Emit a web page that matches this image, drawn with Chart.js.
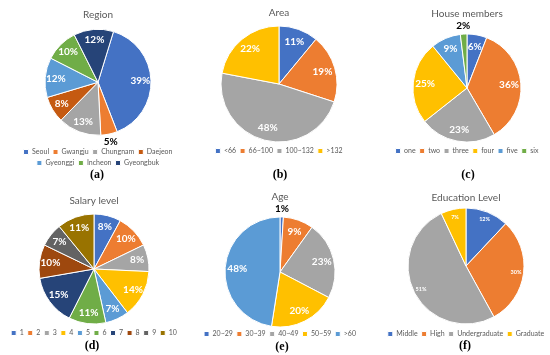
<!DOCTYPE html>
<html>
<head>
<meta charset="utf-8">
<script src="https://cdn.jsdelivr.net/npm/chart.js@4.4.0/dist/chart.umd.min.js"></script>
<style>
  html, body { margin: 0; padding: 0; background: #fff; overflow: hidden; }
  body { width: 550px; height: 355px; position: relative; }
  canvas { position: absolute; }
  .cap { position: absolute; font: bold 12px "Liberation Serif", serif; color: #000; transform: translate(-50%, -50%); white-space: nowrap; }
</style>
</head>
<body>
<script>
// Data
const regionLabels = ['Seoul', 'Gwangju', 'Chungnam', 'Daejeon', 'Gyeonggi', 'Incheon', 'Gyeongbuk'];
const regionValues = [39, 5, 13, 8, 12, 10, 12];

const areaLabels = ['<66', '66~100', '100~132', '>132'];
const areaValues = [11, 19, 48, 22];

const memberLabels = ['one', 'two', 'three', 'four', 'five', 'six'];
const memberValues = [6, 36, 23, 25, 9, 2];

const salaryLabels = ['1', '2', '3', '4', '5', '6', '7', '8', '9', '10'];
const salaryValues = [8, 10, 8, 14, 7, 11, 15, 10, 7, 11];

const ageLabels = ['20~29', '30~39', '40~49', '50~59', '>60'];
const ageValues = [1, 9, 23, 20, 48];

const eduLabels = ['Middle', 'High', 'Undergraduate', 'Graduate'];
const eduValues = [12, 30, 51, 7];

// Office palette
const BLUE = '#4472C4', ORANGE = '#ED7D31', GRAY = '#A5A5A5', GOLD = '#FFC000',
      LBLUE = '#5B9BD5', GREEN = '#70AD47', DBLUE = '#264478', DORANGE = '#9E480E',
      DGRAY = '#636363', DGOLD = '#997300';

const TEXT_GRAY = '#595959';
const FONT = 'Lato';
const LEGEND_SIZE = 7;
const LEGEND_PAD = 4;

// Panel layout (page coordinates)
const panels = [
  { title: 'Region', labels: regionLabels, values: regionValues,
    colors: [BLUE, ORANGE, GRAY, '#C55A11', LBLUE, GREEN, DBLUE],
    cx: 98, w: 184, titleY: 15, cy: 82, r: 53, legendY: 152, rows: 2,
    rotation: 17, outside: [1], ratio: 0.8, size: 10, cap: '(a)', capX: 97, capY: 174 },
  { title: 'Area', labels: areaLabels, values: areaValues,
    colors: [BLUE, ORANGE, GRAY, GOLD],
    cx: 279, w: 184, titleY: 13, cy: 84, r: 58, legendY: 151, rows: 1,
    rotation: 0, outside: [], ratio: 0.78, size: 10, cap: '(b)', capX: 280, capY: 174 },
  { title: 'House members', labels: memberLabels, values: memberValues,
    colors: [BLUE, ORANGE, GRAY, GOLD, LBLUE, GREEN],
    cx: 467, w: 184, titleY: 14, cy: 88, r: 54, legendY: 151, rows: 1,
    rotation: 0, outside: [5], ratio: 0.78, size: 10, cap: '(c)', capX: 468, capY: 174 },
  { title: 'Salary level', labels: salaryLabels, values: salaryValues,
    colors: [BLUE, ORANGE, GRAY, GOLD, LBLUE, GREEN, DBLUE, DORANGE, DGRAY, DGOLD],
    cx: 94, w: 184, titleY: 201, cy: 269, r: 55, legendY: 333, rows: 1,
    rotation: 0, outside: [], ratio: 0.8, size: 10, cap: '(d)', capX: 92, capY: 345 },
  { title: 'Age', labels: ageLabels, values: ageValues,
    colors: [BLUE, ORANGE, GRAY, GOLD, LBLUE],
    cx: 280, w: 184, titleY: 197, cy: 272, r: 55, legendY: 334, rows: 1,
    rotation: 0, outside: [0], ratio: 0.78, size: 10, cap: '(e)', capX: 282, capY: 346 },
  { title: 'Education Level', labels: eduLabels, values: eduValues,
    colors: [BLUE, ORANGE, GRAY, GOLD],
    cx: 466, w: 184, titleY: 198, cy: 266, r: 58, legendY: 334, rows: 1,
    rotation: 0, outside: [], ratio: 0.87, size: 5.5, cap: '(f)', capX: 465, capY: 345 }
];

// percentage labels on / beside each slice
function sliceLabels(pn) {
  return {
    id: 'sliceLabels',
    afterDatasetsDraw(chart) {
      const ctx = chart.ctx;
      const meta = chart.getDatasetMeta(0);
      const values = chart.data.datasets[0].data;
      ctx.save();
      ctx.textAlign = 'center';
      ctx.textBaseline = 'middle';
      meta.data.forEach((arc, i) => {
        const p = arc.getProps(['x', 'y', 'startAngle', 'endAngle', 'outerRadius'], true);
        const mid = (p.startAngle + p.endAngle) / 2;
        const outside = pn.outside.includes(i);
        const dist = outside ? p.outerRadius + 8 : p.outerRadius * pn.ratio;
        ctx.font = 'bold ' + (outside ? 10 : pn.size) + 'px ' + FONT;
        ctx.fillStyle = outside ? '#000' : '#fff';
        ctx.fillText(values[i] + '%', p.x + Math.cos(mid) * dist, p.y + Math.sin(mid) * dist);
      });
      ctx.restore();
    }
  };
}

panels.forEach(pn => {
  const canvas = document.createElement('canvas');
  const top = pn.titleY - 10;
  const legendTop = pn.legendY - LEGEND_PAD - LEGEND_SIZE / 2;
  const bottom = legendTop + pn.rows * (LEGEND_SIZE + LEGEND_PAD) + 10;
  const areaTop = 2 * pn.cy - legendTop;
  canvas.width = pn.w;
  canvas.height = Math.ceil(bottom - top);
  canvas.style.left = (pn.cx - pn.w / 2) + 'px';
  canvas.style.top = top + 'px';
  document.body.appendChild(canvas);

  new Chart(canvas, {
    type: 'pie',
    data: {
      labels: pn.labels,
      datasets: [{
        data: pn.values,
        backgroundColor: pn.colors,
        borderColor: '#fff',
        borderWidth: 1
      }]
    },
    options: {
      responsive: false,
      animation: false,
      rotation: pn.rotation,
      radius: pn.r,
      layout: { padding: { bottom: canvas.height - (bottom - top) } },
      plugins: {
        title: {
          display: true,
          text: pn.title,
          color: TEXT_GRAY,
          font: { family: FONT, size: 10, weight: 'normal', lineHeight: 1 },
          padding: { top: 5, bottom: Math.max(0, areaTop - (pn.titleY + 5)) }
        },
        legend: {
          position: 'bottom',
          labels: {
            usePointStyle: true,
            pointStyle: 'rect',
            boxWidth: 5,
            boxHeight: 5,
            padding: LEGEND_PAD,
            color: TEXT_GRAY,
            font: { family: FONT, size: LEGEND_SIZE }
          }
        },
        tooltip: { enabled: false }
      }
    },
    plugins: [sliceLabels(pn)]
  });

  const cap = document.createElement('div');
  cap.className = 'cap';
  cap.textContent = pn.cap;
  cap.style.left = pn.capX + 'px';
  cap.style.top = pn.capY + 'px';
  document.body.appendChild(cap);
});
</script>
</body>
</html>
